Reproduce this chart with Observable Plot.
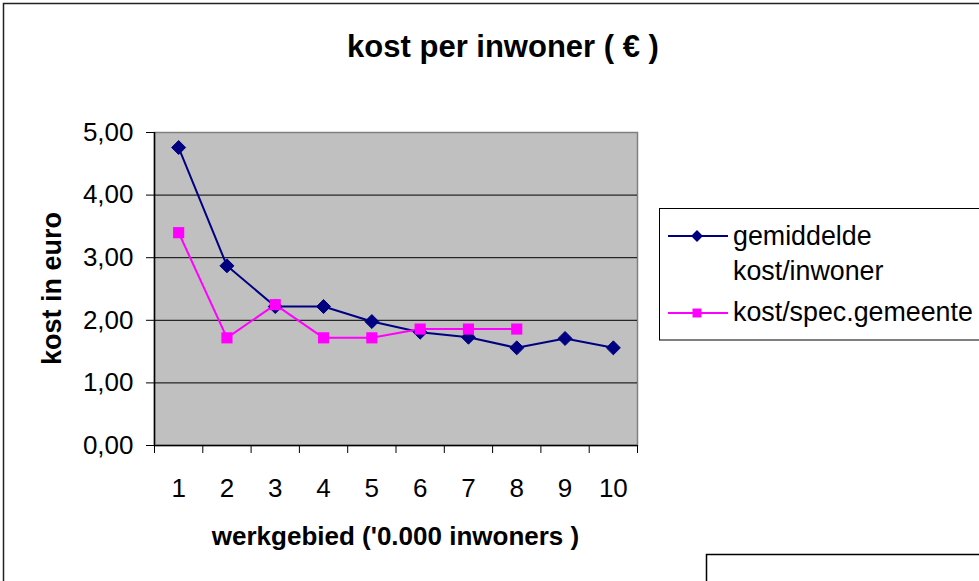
<!DOCTYPE html>
<html>
<head>
<meta charset="utf-8">
<script src="https://cdn.jsdelivr.net/npm/d3@7"></script>
<script src="https://cdn.jsdelivr.net/npm/@observablehq/plot@0.6"></script>
<style>
  html, body { margin: 0; padding: 0; background: #fff; }
  #chart { width: 979px; height: 581px; overflow: hidden; }
</style>
</head>
<body>
<div id="chart"></div>
<script>
// ---- data ----
const categories = [1, 2, 3, 4, 5, 6, 7, 8, 9, 10];
const gemiddeldeKost = [4.76, 2.87, 2.22, 2.22, 1.98, 1.81, 1.73, 1.56, 1.71, 1.56];
const specGemeenteCategories = [1, 2, 3, 4, 5, 6, 7, 8];
const specGemeenteKost = [3.40, 1.72, 2.25, 1.72, 1.72, 1.86, 1.86, 1.86];
const yTicks = [0, 1, 2, 3, 4, 5];
const gridValues = [1, 2, 3, 4];
const titleText = "kost per inwoner ( \u20AC )";
const xTitle = "werkgebied ('0.000 inwoners )";
const yTitle = "kost in euro";

const serieA = categories.map((c, i) => ({x: c, y: gemiddeldeKost[i]}));
const serieB = specGemeenteCategories.map((c, i) => ({x: c, y: specGemeenteKost[i]}));
const boundaries = d3.range(0, categories.length + 1).map(i => i + 0.5);

const navy = "#000080";
const magenta = "#ff00ff";
const font = "'Liberation Sans', Arial, sans-serif";

const W = 979, H = 581;
const mL = 154, mT = 132, mR = W - 637, mB = H - 445;

const plot = Plot.plot({
  width: W,
  height: H,
  marginLeft: mL,
  marginTop: mT,
  marginRight: mR,
  marginBottom: mB,
  style: {fontFamily: font, fontSize: "26px", color: "#000", background: "transparent"},
  x: {type: "linear", domain: [0.5, categories.length + 0.5]},
  y: {type: "linear", domain: [0, 5]},
  marks: [
    Plot.frame({fill: "#c0c0c0", stroke: "#808080", strokeWidth: 1.5}),
    Plot.ruleY(gridValues, {stroke: "#000", strokeWidth: 1}),
    Plot.axisY({ticks: yTicks, tickSize: 8, tickPadding: 13, fontSize: 26,
      tickFormat: d => d.toFixed(2).replace(".", ","), label: null, stroke: "#000", strokeWidth: 1}),
    Plot.axisX({ticks: boundaries, tickSize: 8, tickFormat: () => "", label: null, stroke: "#000"}),
    Plot.axisX({ticks: categories, tickSize: 0, tickPadding: 33, fontSize: 26, tickFormat: d => String(d), label: null}),
    Plot.ruleY([0], {stroke: "#000", strokeWidth: 1.5}),
    Plot.ruleX([0.5], {stroke: "#000", strokeWidth: 1.5}),
    Plot.line(serieA, {x: "x", y: "y", stroke: navy, strokeWidth: 2}),
    Plot.line(serieB, {x: "x", y: "y", stroke: magenta, strokeWidth: 2}),
    Plot.dot(serieA, {x: "x", y: "y", symbol: "diamond2", r: 6.3, fill: navy, stroke: navy, strokeWidth: 1}),
    Plot.dot(serieB, {x: "x", y: "y", symbol: "square", r: 6.3, fill: magenta, stroke: "none"})
  ]
});

document.getElementById("chart").appendChild(plot);

// ---- decorations: titles, borders, legend ----
const svg = d3.select(plot);
svg.style("overflow", "hidden");

svg.insert("rect", ":first-child")
  .attr("x", 3.5).attr("y", 3.5).attr("width", W + 20).attr("height", H + 20)
  .attr("fill", "#fff").attr("stroke", "#222").attr("stroke-width", 1.5);

svg.append("text")
  .attr("x", 503).attr("y", 57)
  .attr("text-anchor", "middle")
  .attr("font-family", font).attr("font-size", 31).attr("font-weight", "bold")
  .text(titleText);

svg.append("text")
  .attr("x", (mL + (W - mR)) / 2).attr("y", 545)
  .attr("text-anchor", "middle")
  .attr("font-family", font).attr("font-size", 26).attr("font-weight", "bold")
  .text(xTitle);

svg.append("text")
  .attr("transform", `translate(61,${(mT + (H - mB)) / 2}) rotate(-90)`)
  .attr("text-anchor", "middle")
  .attr("font-family", font).attr("font-size", 27).attr("font-weight", "bold")
  .text(yTitle);

// legend
const lg = svg.append("g").attr("text-anchor", "start");
lg.append("rect").attr("x", 659.5).attr("y", 208.5).attr("width", 400).attr("height", 131.5)
  .attr("fill", "#fff").attr("stroke", "#000").attr("stroke-width", 1);

const legendItems = [
  {lines: ["gemiddelde", "kost/inwoner"], color: navy, symbol: d3.symbolDiamond2, ly: 236, ty: 245},
  {lines: ["kost/spec.gemeente"], color: magenta, symbol: d3.symbolSquare, ly: 313, ty: 321}
];
legendItems.forEach((it, idx) => {
  lg.append("line").attr("x1", 668).attr("x2", 728).attr("y1", it.ly).attr("y2", it.ly)
    .attr("stroke", it.color).attr("stroke-width", 2);
  lg.append("path").attr("d", d3.symbol(it.symbol, idx === 0 ? 90 : 80)())
    .attr("transform", `translate(697,${it.ly})`).attr("fill", it.color);
  const t = lg.append("text").attr("x", 733).attr("y", it.ty)
    .attr("text-anchor", "start")
    .attr("font-family", font).attr("font-size", 26.8).attr("fill", "#000");
  it.lines.forEach((ln, j) => {
    t.append("tspan").attr("x", 733).attr("dy", j === 0 ? 0 : 35).text(ln);
  });
});

// empty box bottom right
svg.append("rect").attr("x", 706.5).attr("y", 554.5).attr("width", 400).attr("height", 100)
  .attr("fill", "#fff").attr("stroke", "#000").attr("stroke-width", 1.5);
</script>
</body>
</html>
